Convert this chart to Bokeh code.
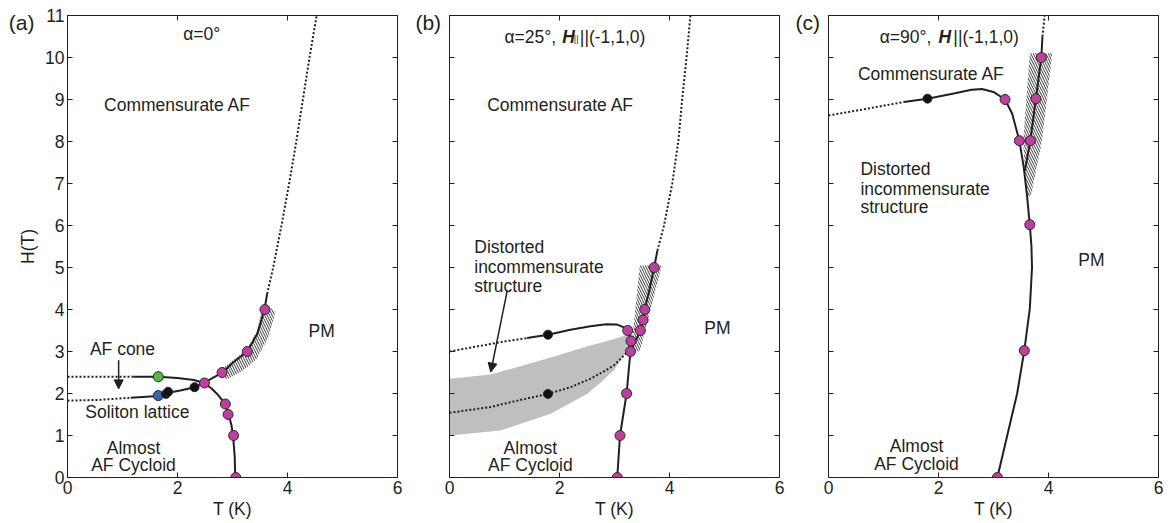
from bokeh.plotting import figure
from bokeh.layouts import row
from bokeh.models import Range1d, LinearAxis, FixedTicker, Label, Arrow, NormalHead
from bokeh.core.properties import value
from bokeh.embed import file_html
from bokeh.resources import INLINE

FONT = "Liberation Sans"
FS = "17.5px"
TXT = "#231f20"
PINK = "#c03f9e"
GREEN = "#5bb548"
BLUE = "#3763b0"
GREY = "#bfbfc1"

# ---------------- axis ticks ----------------
x_ticks = [0, 2, 4, 6]
x_top_ticks = [2, 4]
y_ticks = list(range(12))

# ---------------- panel (a)  alpha = 0 ----------------
a_cone_dot_T = [0.0, 0.6, 1.2]
a_cone_dot_H = [2.40, 2.40, 2.40]
a_cone_T = [1.2, 1.65, 2.0, 2.3, 2.48, 2.62, 2.72, 2.87, 2.93, 2.98, 3.01, 3.04, 3.05]
a_cone_H = [2.40, 2.40, 2.37, 2.32, 2.25, 2.12, 1.99, 1.75, 1.5, 1.25, 1.0, 0.5, 0.0]
a_sol_dot_T = [0.0, 0.6, 1.15]
a_sol_dot_H = [1.83, 1.85, 1.90]
a_sol_T = [1.15, 1.65, 1.81, 2.05, 2.31, 2.48, 2.65, 2.83, 3.02, 3.27, 3.45, 3.58, 3.63]
a_sol_H = [1.90, 1.94, 2.01, 2.07, 2.15, 2.25, 2.38, 2.51, 2.75, 3.0, 3.42, 4.0, 4.37]
a_pm_dot_T = [3.63, 3.74, 3.89, 4.03, 4.16, 4.28, 4.40, 4.53]
a_pm_dot_H = [4.37, 5.0, 6.0, 7.0, 8.0, 9.0, 10.0, 11.0]
a_pink_T = [3.59, 3.27, 2.81, 2.49, 2.87, 2.92, 3.02, 3.06]
a_pink_H = [4.0, 3.0, 2.5, 2.25, 1.75, 1.5, 1.0, 0.0]
a_green_T = [1.65]
a_green_H = [2.40]
a_blue_T = [1.65]
a_blue_H = [1.95]
a_black_T = [1.79, 1.83, 2.31]
a_black_H = [1.99, 2.04, 2.15]
a_hatch_T = [2.72, 3.00, 3.25, 3.43, 3.55, 3.60, 3.78, 3.66, 3.44, 3.17, 2.90]
a_hatch_H = [2.50, 2.78, 3.04, 3.45, 4.02, 4.12, 3.95, 3.36, 2.82, 2.53, 2.34]
a_arrow = [0.93, 2.79, 0.93, 2.11]

# ---------------- panel (b)  alpha = 25 ----------------
b_up_dot_T = [0.0, 0.5, 1.0, 1.41]
b_up_dot_H = [3.0, 3.12, 3.24, 3.32]
b_up_T = [1.41, 1.79, 2.2, 2.56, 2.85, 3.05, 3.16, 3.24, 3.29, 3.30]
b_up_H = [3.32, 3.40, 3.52, 3.60, 3.65, 3.64, 3.58, 3.50, 3.38, 3.25]
b_lo_dot_T = [0.0, 0.75, 1.3, 1.79, 2.2, 2.56, 2.8, 2.99, 3.2, 3.30]
b_lo_dot_H = [1.54, 1.68, 1.85, 1.99, 2.15, 2.35, 2.52, 2.67, 2.94, 3.2]
b_main_T = [3.05, 3.10, 3.22, 3.29, 3.38, 3.47, 3.52, 3.55, 3.64, 3.72, 3.78]
b_main_H = [0.0, 1.0, 2.0, 3.0, 3.25, 3.5, 3.75, 4.0, 4.5, 5.0, 5.4]
b_pm_dot_T = [3.78, 3.90, 4.05, 4.16, 4.23, 4.31, 4.38]
b_pm_dot_H = [5.4, 6.0, 7.0, 8.0, 9.0, 10.0, 11.0]
b_pink_T = [3.72, 3.55, 3.52, 3.47, 3.24, 3.30, 3.29, 3.22, 3.10, 3.05]
b_pink_H = [5.0, 4.0, 3.75, 3.5, 3.5, 3.25, 3.0, 2.0, 1.0, 0.0]
b_black_T = [1.79, 1.79]
b_black_H = [3.40, 1.99]
b_band_T = [0.0, 0.75, 1.84, 2.56, 3.0, 3.28, 3.26, 3.0, 2.75, 2.50, 1.84, 0.93, 0.0]
b_band_H = [2.35, 2.45, 2.86, 3.14, 3.30, 3.42, 3.10, 2.57, 2.26, 1.99, 1.52, 1.12, 1.0]
b_hatch_T = [3.30, 3.46, 3.86, 3.46]
b_hatch_H = [3.0, 3.0, 5.05, 5.05]
b_arrow = [1.05, 4.45, 0.75, 2.51]

# ---------------- panel (c)  alpha = 90 ----------------
c_up_dot_T = [0.0, 0.7, 1.37]
c_up_dot_H = [8.62, 8.78, 8.94]
c_main_T = [1.37, 1.80, 2.3, 2.6, 2.79, 3.0, 3.21, 3.34, 3.47, 3.55, 3.61, 3.66, 3.69, 3.70, 3.68, 3.66, 3.56, 3.43, 3.25, 3.07]
c_main_H = [8.94, 9.02, 9.15, 9.23, 9.25, 9.18, 9.0, 8.66, 8.02, 7.39, 6.7, 6.02, 5.5, 5.0, 4.5, 4.02, 3.02, 2.0, 1.0, 0.0]
c_br_T = [3.57, 3.67, 3.77, 3.87, 3.89]
c_br_H = [7.3, 8.02, 9.02, 10.0, 10.5]
c_top_dot_T = [3.89, 3.91, 3.93]
c_top_dot_H = [10.5, 10.75, 11.0]
c_pink_T = [3.87, 3.77, 3.21, 3.47, 3.67, 3.66, 3.56, 3.07]
c_pink_H = [10.0, 9.02, 9.0, 8.02, 8.02, 6.02, 3.02, 0.0]
c_black_T = [1.80]
c_black_H = [9.02]
c_hatch_T = [3.66, 4.07, 3.88, 3.68, 3.60, 3.54]
c_hatch_H = [10.1, 10.1, 8.0, 6.7, 6.7, 8.0]

# ---------------- text labels ----------------
a_lab_text = ["Commensurate AF", "PM", "AF cone", "Soliton lattice", "Almost", "AF Cycloid", "\u03b1=0\u00b0"]
a_lab_T = [2.0, 4.62, 1.0, 1.27, 1.2, 1.2, 2.44]
a_lab_H = [8.88, 3.5, 3.07, 1.57, 0.71, 0.29, 10.57]

b_lab_text = ["Commensurate AF", "PM", "Almost", "AF Cycloid"]
b_lab_T = [2.02, 4.87, 1.47, 1.47]
b_lab_H = [8.88, 3.57, 0.71, 0.29]
b_left_text = ["Distorted", "incommensurate", "structure"]
b_left_T = [0.45, 0.45, 0.45]
b_left_H = [5.49, 5.01, 4.56]

c_lab_text = ["Commensurate AF", "PM", "Almost", "AF Cycloid"]
c_lab_T = [1.87, 4.78, 1.6, 1.6]
c_lab_H = [9.61, 5.19, 0.75, 0.32]
c_left_text = ["Distorted", "incommensurate", "structure"]
c_left_T = [0.58, 0.58, 0.58]
c_left_H = [7.35, 6.87, 6.44]

panel_names = ["(a)", "(b)", "(c)"]
panel_name_T = [-1.07, -0.62, -0.60]
panel_name_H = 10.83


def style_axis(ax, ticks, show_labels):
    ax.ticker = FixedTicker(ticks=ticks)
    ax.major_tick_in = 5
    ax.major_tick_out = 0
    ax.minor_tick_in = 0
    ax.minor_tick_out = 0
    ax.axis_line_color = TXT
    ax.major_tick_line_color = TXT
    ax.major_label_text_font = FONT
    ax.major_label_text_font_size = FS
    ax.major_label_text_color = TXT
    ax.major_label_standoff = 3
    ax.axis_label_text_font = FONT
    ax.axis_label_text_font_size = FS
    ax.axis_label_text_font_style = "normal"
    ax.axis_label_text_color = TXT
    ax.axis_label_standoff = 2
    if not show_labels:
        ax.major_label_overrides = {t: "" for t in ticks}


def make_fig(left, right, ylab):
    p = figure(frame_width=330, frame_height=462, x_range=Range1d(0, 6), y_range=Range1d(0, 11),
               output_backend="svg", toolbar_location=None,
               min_border_left=left, min_border_right=right, min_border_top=15, min_border_bottom=46,
               x_axis_label="T (K)")
    p.grid.visible = False
    p.outline_line_color = TXT
    p.background_fill_color = "white"
    p.border_fill_color = "white"
    style_axis(p.xaxis[0], x_ticks, True)
    style_axis(p.yaxis[0], y_ticks, ylab)
    if ylab:
        p.yaxis[0].axis_label = "H(T)"
        p.yaxis[0].axis_label_standoff = 4
    top = LinearAxis()
    style_axis(top, x_top_ticks, False)
    p.add_layout(top, "above")
    rt = LinearAxis()
    style_axis(rt, y_ticks, False)
    p.add_layout(rt, "right")
    return p


def txt(p, xs, ys, texts, align="center", baseline="middle", size=FS, style="normal"):
    p.text(x=xs, y=ys, text=texts, text_font=value(FONT), text_font_size=size,
           text_align=align, text_baseline=baseline, text_color=TXT, text_font_style=style)


def solid(p, xs, ys):
    p.line(xs, ys, line_color=TXT, line_width=2)


def dotted(p, xs, ys):
    p.line(xs, ys, line_color=TXT, line_width=2, line_dash="2 2")


def hatch(p, xs, ys):
    p.patch(xs, ys, fill_color=None, line_color=None, hatch_pattern="\\",
            hatch_color="#3a3a3a", hatch_scale=5, hatch_weight=1)


def pts(p, xs, ys, color, size=10):
    p.scatter(xs, ys, size=size, fill_color=color, line_color="#2a2a2a", line_width=1)


def arrow(p, a):
    p.add_layout(Arrow(end=NormalHead(size=9, fill_color=TXT, line_color=TXT, line_width=1),
                       x_start=a[0], y_start=a[1], x_end=a[2], y_end=a[3],
                       line_color=TXT, line_width=1.5))


def panel_label(p, i):
    p.add_layout(Label(x=panel_name_T[i], y=panel_name_H, x_units="data", y_units="data",
                       text=panel_names[i], text_font=FONT, text_font_size="21px",
                       text_color=TXT, text_baseline="middle", text_align="left"), "left")


def panel_label_axis(p, i, standoff):
    ax = LinearAxis(ticker=FixedTicker(ticks=[panel_name_H]),
                    major_label_overrides={panel_name_H: panel_names[i]})
    ax.axis_line_color = None
    ax.major_tick_line_color = None
    ax.minor_tick_line_color = None
    ax.major_tick_in = 0
    ax.major_tick_out = 0
    ax.major_label_text_font = FONT
    ax.major_label_text_font_size = "21px"
    ax.major_label_text_color = TXT
    ax.major_label_standoff = standoff
    p.add_layout(ax, "left")


# ---- (a)
pa = make_fig(67, 16, True)
hatch(pa, a_hatch_T, a_hatch_H)
dotted(pa, a_cone_dot_T, a_cone_dot_H)
solid(pa, a_cone_T, a_cone_H)
dotted(pa, a_sol_dot_T, a_sol_dot_H)
solid(pa, a_sol_T, a_sol_H)
dotted(pa, a_pm_dot_T, a_pm_dot_H)
pts(pa, a_pink_T, a_pink_H, PINK)
pts(pa, a_green_T, a_green_H, GREEN)
pts(pa, a_blue_T, a_blue_H, BLUE)
pts(pa, a_black_T, a_black_H, "#111111", 9)
arrow(pa, a_arrow)
txt(pa, a_lab_T, a_lab_H, a_lab_text)
panel_label_axis(pa, 0, -19)

# ---- (b)
pb = make_fig(36, 13, False)
pb.patch(b_band_T, b_band_H, fill_color=GREY, line_color=None)
hatch(pb, b_hatch_T, b_hatch_H)
dotted(pb, b_up_dot_T, b_up_dot_H)
solid(pb, b_up_T, b_up_H)
dotted(pb, b_lo_dot_T, b_lo_dot_H)
solid(pb, b_main_T, b_main_H)
dotted(pb, b_pm_dot_T, b_pm_dot_H)
pts(pb, b_pink_T, b_pink_H, PINK)
pts(pb, b_black_T, b_black_H, "#111111", 9)
arrow(pb, b_arrow)
txt(pb, b_lab_T, b_lab_H, b_lab_text)
txt(pb, b_left_T, b_left_H, b_left_text, align="left")
txt(pb, [1.0], [10.48], ["\u03b1=25\u00b0,"], align="left", baseline="alphabetic")
txt(pb, [2.05], [10.48], ["H"], align="left", baseline="alphabetic", style="bold italic")
txt(pb, [2.26], [10.43], ["||"], align="left", baseline="alphabetic", size="9px")
txt(pb, [2.37], [10.48], ["||(-1,1,0)"], align="left", baseline="alphabetic")
panel_label(pb, 1)

# ---- (c)
pc = make_fig(36, 18, False)
hatch(pc, c_hatch_T, c_hatch_H)
dotted(pc, c_up_dot_T, c_up_dot_H)
solid(pc, c_main_T, c_main_H)
solid(pc, c_br_T, c_br_H)
dotted(pc, c_top_dot_T, c_top_dot_H)
pts(pc, c_pink_T, c_pink_H, PINK)
pts(pc, c_black_T, c_black_H, "#111111", 9)
txt(pc, c_lab_T, c_lab_H, c_lab_text)
txt(pc, c_left_T, c_left_H, c_left_text, align="left")
txt(pc, [0.93], [10.48], ["\u03b1=90\u00b0,"], align="left", baseline="alphabetic")
txt(pc, [2.0], [10.48], ["H"], align="left", baseline="alphabetic", style="bold italic")
txt(pc, [2.27], [10.48], ["||(-1,1,0)"], align="left", baseline="alphabetic")
panel_label(pc, 2)

layout = row(pa, pb, pc)
open("out.html", "w").write(file_html(layout, INLINE))
